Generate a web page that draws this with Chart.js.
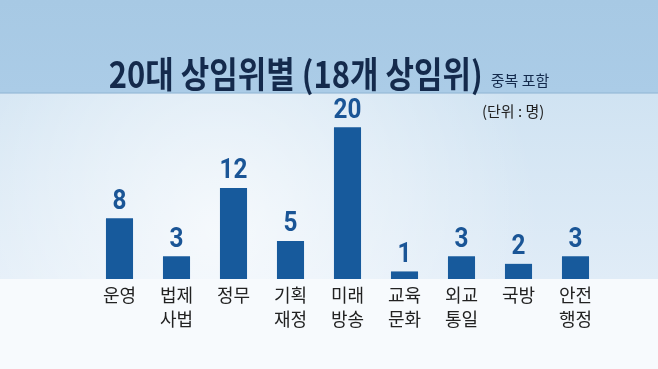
<!DOCTYPE html>
<html>
<head>
<meta charset="utf-8">
<script src="https://cdn.jsdelivr.net/npm/chart.js@4"></script>
<style>
  html, body { margin: 0; padding: 0; background: #f7fafd; }
  #wrap { width: 658px; height: 369px; position: relative; }
</style>
</head>
<body>
<div id="wrap"><canvas id="myChart" width="658" height="369"></canvas></div>
<script>
// committees (multi-line tick labels) and number of members
const categories = [['운영'], ['법제', '사법'], ['정무'], ['기획', '재정'], ['미래', '방송'], ['교육', '문화'], ['외교', '통일'], ['국방'], ['안전', '행정']];
const members = [8, 3, 12, 5, 20, 1, 3, 2, 3];

const titleText = '20대 상임위별 (18개 상임위)';
const subTitleText = '중복 포함';
const unitText = '(단위 : 명)';

const barColor = '#175a9c';
const navy = '#142a4c';

// background + title, drawn before everything else
const backdrop = {
    id: 'backdrop',
    beforeDraw(chart) {
        const ctx = chart.ctx;
        const w = chart.width, h = chart.height;
        const base = chart.scales.y.getPixelForValue(0);
        ctx.save();

        // header band
        let g = ctx.createLinearGradient(0, 0, 0, 93);
        g.addColorStop(0, '#a7c9e4');
        g.addColorStop(1, '#abcce7');
        ctx.fillStyle = g;
        ctx.fillRect(0, 0, w, 93);

        // middle area
        g = ctx.createLinearGradient(0, 93, 0, base);
        g.addColorStop(0, '#d0e3f2');
        g.addColorStop(1, '#e0ecf7');
        ctx.fillStyle = g;
        ctx.fillRect(0, 93, w, base - 93);
        let r = ctx.createRadialGradient(220, 230, 10, 220, 230, 320);
        r.addColorStop(0, 'rgba(255,255,255,0.7)');
        r.addColorStop(1, 'rgba(255,255,255,0)');
        ctx.fillStyle = r;
        ctx.fillRect(0, 93, w, base - 93);

        // thin edge under header
        ctx.fillStyle = 'rgba(150,185,215,0.6)';
        ctx.fillRect(0, 92, w, 2);

        // lower white area
        ctx.fillStyle = '#f7fafd';
        ctx.fillRect(0, base, w, h - base);

        // title (condensed)
        ctx.fillStyle = navy;
        ctx.textBaseline = 'alphabetic';
        ctx.textAlign = 'left';
        const sx = 0.86;
        ctx.font = 'bold 36px "Noto Sans CJK KR"';
        const tw = ctx.measureText(titleText).width * sx;
        ctx.font = '15px "Noto Sans CJK KR"';
        const sw = ctx.measureText(subTitleText).width;
        const x0 = (w - (tw + 8 + sw)) / 2;
        ctx.save();
        ctx.translate(x0, 88);
        ctx.scale(sx, 1);
        ctx.font = 'bold 36px "Noto Sans CJK KR"';
        ctx.fillText(titleText, 0, 0);
        ctx.restore();
        ctx.font = '15px "Noto Sans CJK KR"';
        ctx.fillText(subTitleText, x0 + tw + 8, 86);

        // unit
        ctx.fillStyle = '#222';
        ctx.font = '15px "Noto Sans CJK KR"';
        ctx.fillText(unitText, 482, 117);
        ctx.restore();
    }
};

// value labels above each bar
const valueLabels = {
    id: 'valueLabels',
    afterDatasetsDraw(chart) {
        const ctx = chart.ctx;
        const meta = chart.getDatasetMeta(0);
        ctx.save();
        ctx.fillStyle = '#1a5596';
        ctx.font = 'bold 27px Roboto';
        ctx.textAlign = 'center';
        ctx.textBaseline = 'bottom';
        meta.data.forEach((bar, i) => {
            ctx.save();
            ctx.translate(bar.x, bar.y - 3);
            ctx.scale(0.9, 1);
            ctx.fillText(String(members[i]), 0, 0);
            ctx.restore();
        });
        ctx.restore();
    }
};

const ctx = document.getElementById('myChart').getContext('2d');
new Chart(ctx, {
    type: 'bar',
    data: {
        labels: categories,
        datasets: [{
            data: members,
            backgroundColor: barColor,
            barPercentage: 0.475,
            categoryPercentage: 1.0
        }]
    },
    options: {
        responsive: false,
        animation: false,
        layout: { padding: { left: 91, right: 54, top: 97, bottom: 34 } },
        plugins: {
            legend: { display: false },
            tooltip: { enabled: false },
            title: { display: false }
        },
        scales: {
            x: {
                grid: { display: false, drawTicks: false },
                border: { display: false },
                ticks: {
                    color: '#222',
                    padding: 4,
                    maxRotation: 0,
                    autoSkip: false,
                    font: { family: '"Noto Sans CJK KR"', size: 18, lineHeight: 1.333 }
                }
            },
            y: {
                display: false,
                min: 0,
                max: 24
            }
        }
    },
    plugins: [backdrop, valueLabels]
});
</script>
</body>
</html>
